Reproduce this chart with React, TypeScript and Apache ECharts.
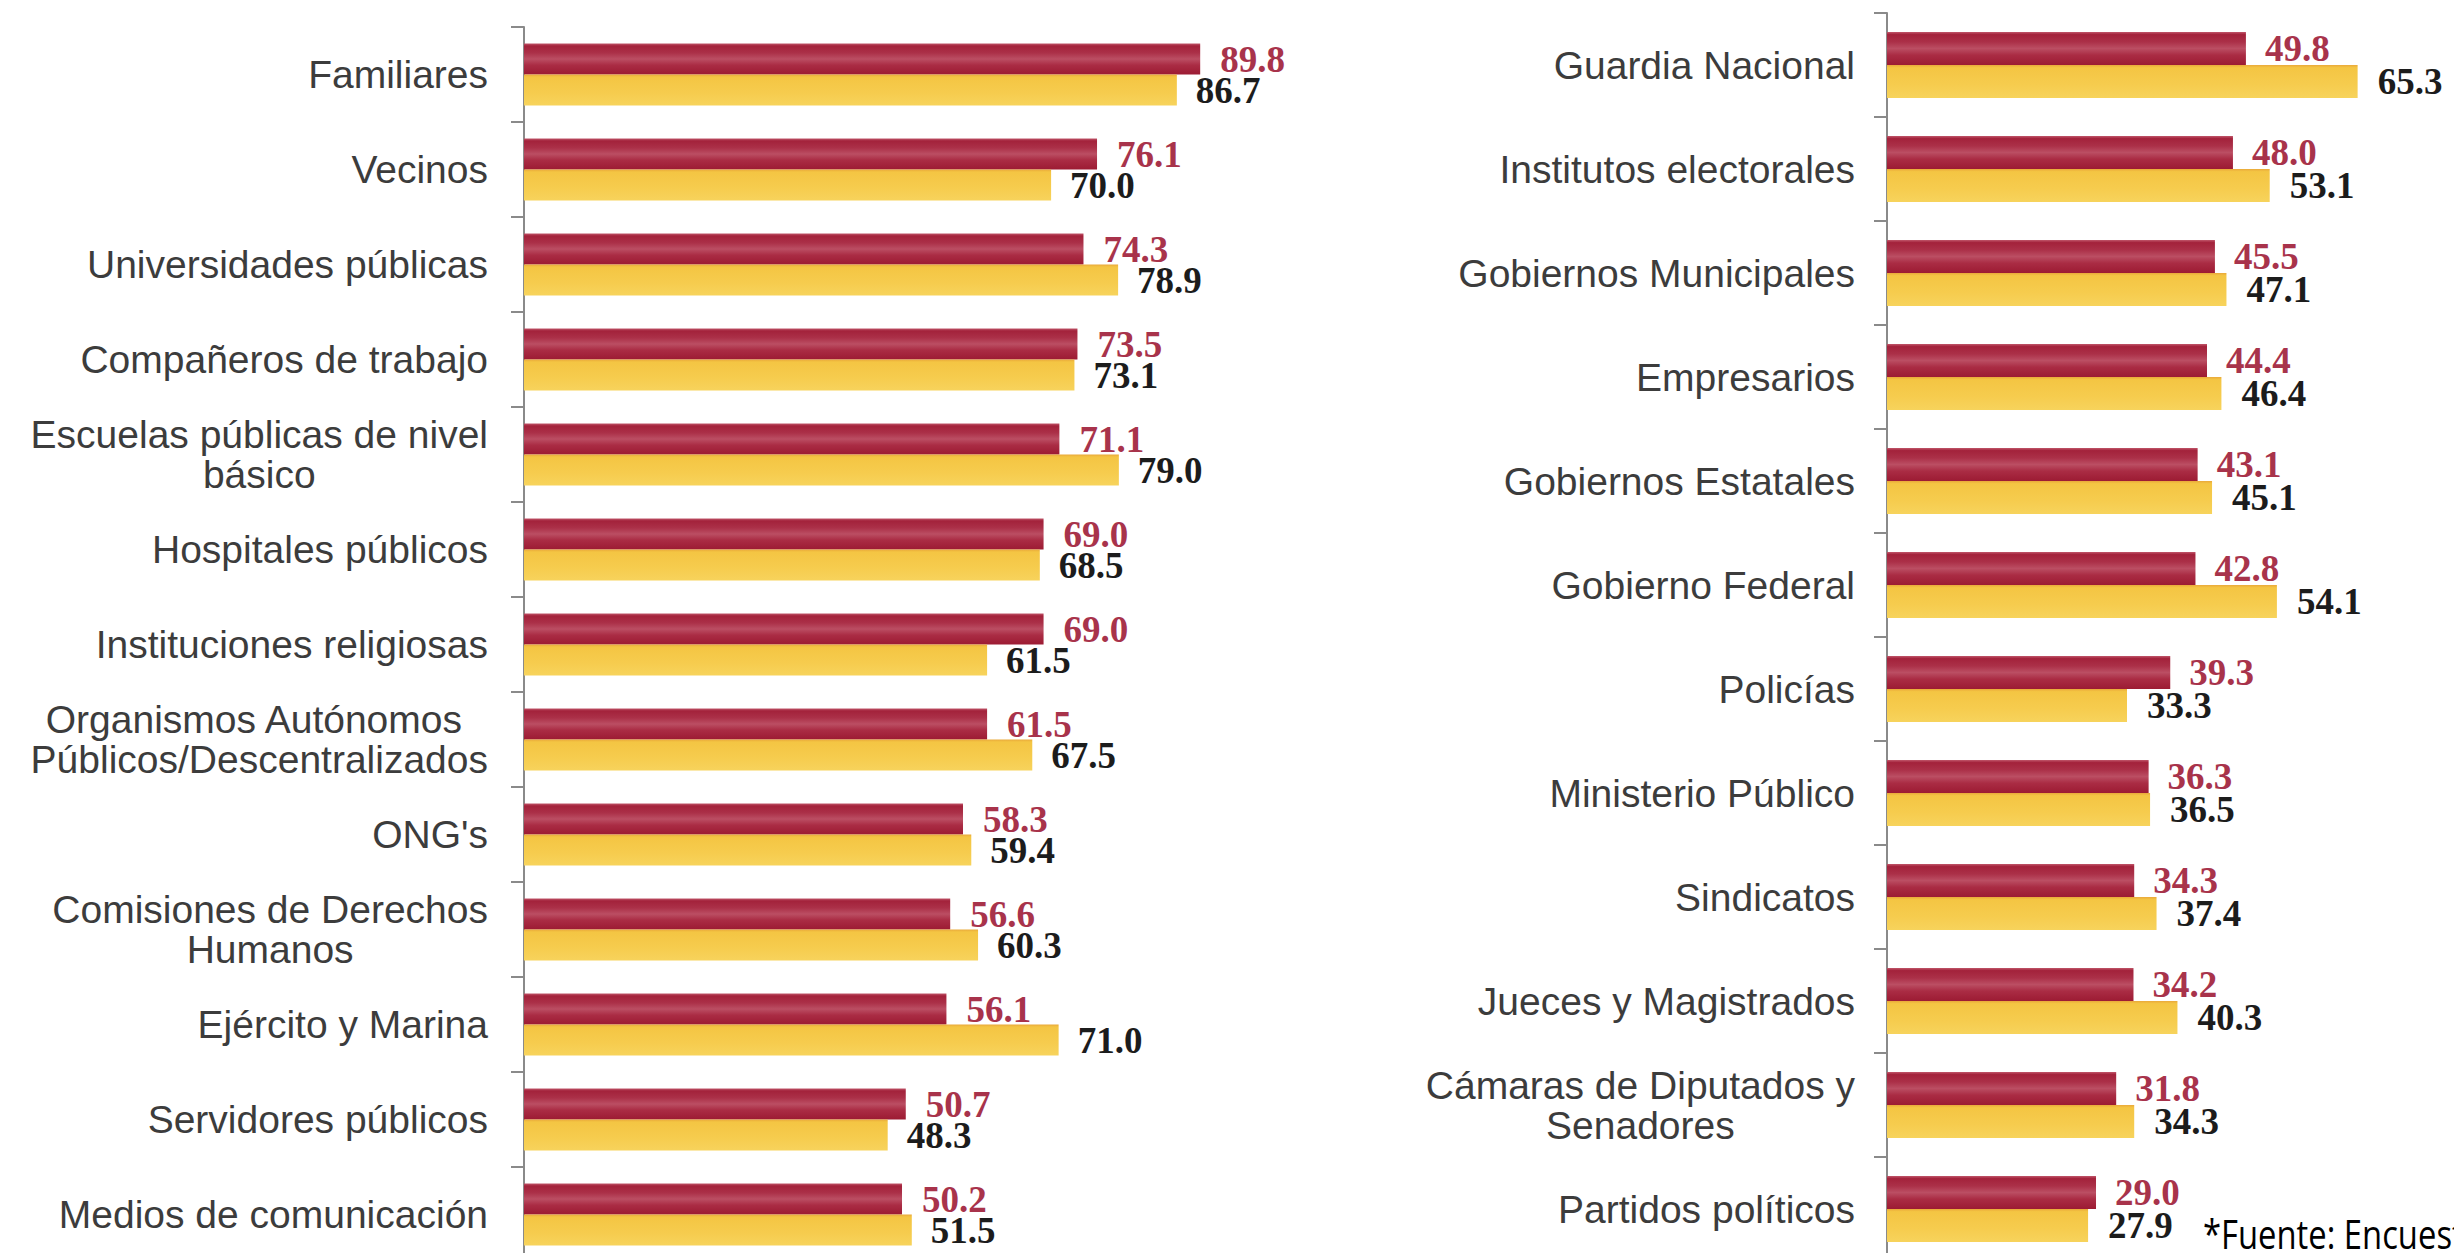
import React, { useEffect, useRef } from "react";
import * as echarts from "echarts";

const leftCategories = [
  "Familiares",
  "Vecinos",
  "Universidades públicas",
  "Compañeros de trabajo",
  "Escuelas públicas de nivel\nbásico",
  "Hospitales públicos",
  "Instituciones religiosas",
  "Organismos Autónomos \nPúblicos/Descentralizados",
  "ONG's",
  "Comisiones de Derechos\nHumanos",
  "Ejército y Marina",
  "Servidores públicos",
  "Medios de comunicación",
];
const leftRed = [89.8, 76.1, 74.3, 73.5, 71.1, 69.0, 69.0, 61.5, 58.3, 56.6, 56.1, 50.7, 50.2];
const leftYellow = [86.7, 70.0, 78.9, 73.1, 79.0, 68.5, 61.5, 67.5, 59.4, 60.3, 71.0, 48.3, 51.5];

const rightCategories = [
  "Guardia Nacional",
  "Institutos electorales",
  "Gobiernos Municipales",
  "Empresarios",
  "Gobiernos Estatales",
  "Gobierno Federal",
  "Policías",
  "Ministerio Público",
  "Sindicatos",
  "Jueces y Magistrados",
  "Cámaras de Diputados y\nSenadores",
  "Partidos políticos",
];
const rightRed = [49.8, 48.0, 45.5, 44.4, 43.1, 42.8, 39.3, 36.3, 34.3, 34.2, 31.8, 29.0];
const rightYellow = [65.3, 53.1, 47.1, 46.4, 45.1, 54.1, 33.3, 36.5, 37.4, 40.3, 34.3, 27.9];

const footnote = "*Fuente: Encuesta";

export default function App() {
  const ref = useRef<HTMLDivElement>(null);

  useEffect(() => {
    const chart = echarts.init(ref.current as HTMLDivElement, null, { renderer: "svg" });

    const redGrad = {
      type: "linear",
      x: 0,
      y: 0,
      x2: 0,
      y2: 1,
      colorStops: [
        { offset: 0, color: "#c0566a" },
        { offset: 0.08, color: "#a3223b" },
        { offset: 0.3, color: "#ab3048" },
        { offset: 0.5, color: "#bb4e63" },
        { offset: 0.7, color: "#aa2c44" },
        { offset: 1, color: "#9c1b33" },
      ],
    };
    const yellowGrad = {
      type: "linear",
      x: 0,
      y: 0,
      x2: 0,
      y2: 1,
      colorStops: [
        { offset: 0, color: "#e9a93a" },
        { offset: 0.08, color: "#f4c543" },
        { offset: 0.6, color: "#f6cc4e" },
        { offset: 1, color: "#f7d35c" },
      ],
    };

    const catLabel = (margin: number) => ({
      margin,
      formatter: (v: string) =>
        v
          .split("\n")
          .map((s) => `{c|${s}}`)
          .join("\n"),
      rich: {
        c: {
          align: "center",
          fontSize: 39,
          lineHeight: 40,
          fontFamily: "Liberation Sans, Arial, sans-serif",
          color: "#3c3c3c",
        },
      },
    });

    const axisCommon = {
      type: "category",
      inverse: true,
      axisLine: { show: true, lineStyle: { color: "#8a8a8a", width: 2 } },
      axisTick: { show: true, length: 13, lineStyle: { color: "#8a8a8a", width: 2 } },
      splitLine: { show: false },
    };

    const valueLabel = (color: string, distance: number) => ({
      show: true,
      position: "right",
      distance,
      formatter: (p: any) => Number(p.value).toFixed(1),
      fontFamily: "Liberation Serif, Times New Roman, serif",
      fontWeight: "bold",
      fontSize: 37,
      color,
    });

    const option = {
      animation: false,
      backgroundColor: "#ffffff",
      grid: [
        { left: 524, top: 27, width: 753, height: 1235 },
        { left: 1887, top: 13, width: 560, height: 1248 },
      ],
      xAxis: [
        { type: "value", gridIndex: 0, min: 0, max: 100, show: false },
        { type: "value", gridIndex: 1, min: 0, max: 77.7, show: false },
      ],
      yAxis: [
        { ...axisCommon, gridIndex: 0, data: leftCategories, axisLabel: catLabel(36) },
        { ...axisCommon, gridIndex: 1, data: rightCategories, axisLabel: catLabel(32) },
      ],
      series: [
        {
          type: "bar",
          xAxisIndex: 0,
          yAxisIndex: 0,
          data: leftRed,
          barWidth: 31,
          barGap: "0%",
          itemStyle: { color: redGrad },
          label: valueLabel("#a8334b", 20),
        },
        {
          type: "bar",
          xAxisIndex: 0,
          yAxisIndex: 0,
          data: leftYellow,
          barWidth: 31,
          barGap: "0%",
          itemStyle: { color: yellowGrad },
          label: valueLabel("#1c1c1c", 19),
        },
        {
          type: "bar",
          xAxisIndex: 1,
          yAxisIndex: 1,
          data: rightRed,
          barWidth: 33,
          barGap: "0%",
          itemStyle: { color: redGrad },
          label: valueLabel("#a8334b", 19),
        },
        {
          type: "bar",
          xAxisIndex: 1,
          yAxisIndex: 1,
          data: rightYellow,
          barWidth: 33,
          barGap: "0%",
          itemStyle: { color: yellowGrad },
          label: valueLabel("#1c1c1c", 20),
        },
      ],
      graphic: [
        {
          type: "text",
          x: 2203,
          y: 1234,
          scaleX: 0.82,
          style: {
            text: footnote,
            fontSize: 40,
            fontFamily: "Open Sans, sans-serif",
            fill: "#000000",
            verticalAlign: "middle",
          },
        },
      ],
    };

    chart.setOption(option as any);
    return () => chart.dispose();
  }, []);

  return (
    <div
      ref={ref}
      style={{ position: "fixed", left: 0, top: 0, width: 2454, height: 1275, background: "#ffffff" }}
    />
  );
}
